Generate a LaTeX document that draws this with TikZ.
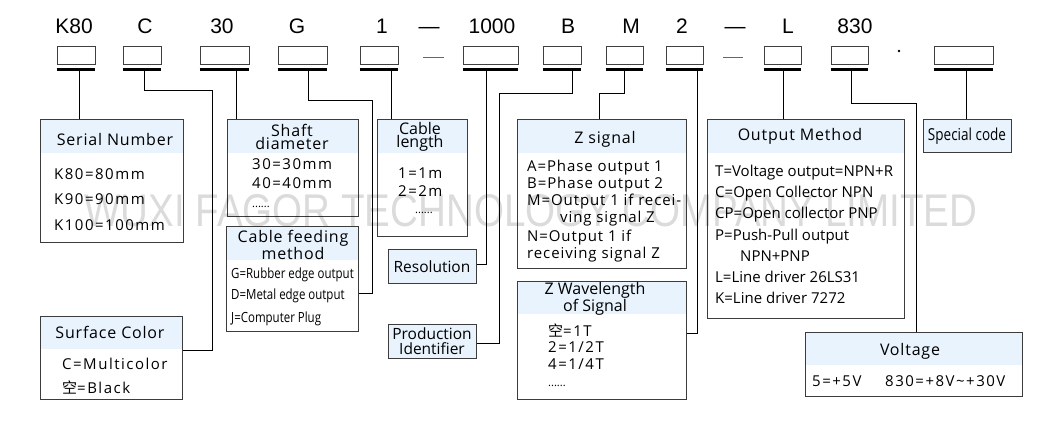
\documentclass[tikz,border=0pt]{standalone}
\usepackage{fontspec}
\setmainfont{Open Sans}
\newfontfamily\codefont{Liberation Sans}
\newfontfamily\cjk{Noto Sans CJK SC}
\newfontfamily\narrowfont{Open Sans}[FakeStretch=0.82]
\newfontfamily\spacedfont{Open Sans}[LetterSpace=10]
\newfontfamily\zfont{Open Sans}[LetterSpace=6]
\newfontfamily\headfont{Open Sans}[LetterSpace=5]
\newfontfamily\markfont{Liberation Sans}
\definecolor{headblue}{RGB}{232,243,253}
\definecolor{boxline}{RGB}{60,60,60}
\tikzset{
codebox/.style={draw=black!75, line width=0.9pt, minimum width=#1, minimum height=18pt, inner sep=0pt},
codetext/.style={font=\codefont\fontsize{21}{21}\selectfont, inner sep=0pt, anchor=base},
underbar/.style={line width=2.4pt},
wire/.style={line width=0.9pt},
infobox/.style={draw=boxline, line width=1.1pt, fill=white, anchor=north west, inner sep=0pt,
  path picture={\fill[headblue] (path picture bounding box.north west) rectangle ([yshift=-#1]path picture bounding box.north east);}},
infobox/.default=33pt,
bluebox/.style={draw=boxline, line width=1.1pt, fill=headblue, anchor=north west, inner sep=0pt},
head/.style={font=\headfont\fontsize{16}{16}\selectfont, inner sep=0pt, anchor=base},
twohead/.style={font=\headfont\fontsize{16}{#1}\selectfont, inner sep=0pt, align=center},
item/.style={font=\spacedfont\fontsize{15}{15}\selectfont, inner sep=0pt, anchor=base west},
zitem/.style={font=\zfont\fontsize{15}{15}\selectfont, inner sep=0pt, anchor=base west},
outitem/.style={font=\fontsize{15}{15}\selectfont, inner sep=0pt, anchor=base west},
narrowitem/.style={font=\narrowfont\fontsize{14}{14}\selectfont, inner sep=0pt, anchor=base west},
dots/.style={font=\fontsize{11}{11}\selectfont, inner sep=0pt, anchor=base west}
}
\begin{document}
\begin{tikzpicture}[x=1pt,y=-1pt]
\useasboundingbox (0,0) rectangle (1060,431);
\foreach \nm/\bx/\w/\tx/\txt/\lx in {kbox/76/38/74/K80/79, cbox/142/38/145/C/144, dbox/224.5/49/222/30/236,
  gbox/302.5/49/297/G/308, lbox/379/38/382/1/391, rbox/490.5/55/492/1000/486, bbox/562/38/568/B/572,
  mbox/624.5/37/631/M/624, zbox/684.5/37/682/2/697, obox/782.5/37/788/L/783, vbox/849.5/37/855/830/851,
  sbox/963.5/59/963.5//966}{
  \node[codebox=\w pt] (\nm) at (\bx,55) {};
  \node[codetext] (\nm-t) at (\tx,33.5) {\txt};
  \draw[underbar] ([yshift=-5pt]\nm.south west) -- ([yshift=-5pt]\nm.south east);
  \coordinate (\nm-o) at (\lx,69);
}
\node[codetext] (dash1) at (429,33.5) {—};
\node[codetext] (dash2) at (735,33.5) {—};
\draw[black!60] (423,57) -- (444,57);
\draw[black!60] (723,57) -- (743,57);
\fill (899,51) circle [radius=1.3];

\node[infobox, minimum width=143pt, minimum height=123pt] (serial) at (40,119) {};
\node[infobox, minimum width=131pt, minimum height=97pt] (shaft) at (227,119) {};
\node[infobox, minimum width=132pt, minimum height=105pt] (feed) at (226,226) {};
\node[infobox, minimum width=90pt, minimum height=117pt] (length) at (377,119) {};
\node[bluebox, minimum width=88pt, minimum height=34pt] (resol) at (388,249) {};
\node[bluebox, minimum width=88pt, minimum height=34pt] (prod) at (388,324) {};
\node[infobox, minimum width=169pt, minimum height=149pt] (zsig) at (517,119) {};
\node[infobox=32pt, minimum width=169pt, minimum height=118pt] (zwave) at (517,281) {};
\node[infobox, minimum width=197pt, minimum height=199pt] (output) at (707,119) {};
\node[infobox=32pt, minimum width=217pt, minimum height=64pt] (volt) at (805,332) {};
\node[bluebox, minimum width=88pt, minimum height=33pt] (special) at (923,119) {};
\node[infobox=32pt, minimum width=142pt, minimum height=83pt] (surface) at (40,316) {};

\draw[wire] (kbox-o) -- (kbox-o |- serial.north);
\draw[wire] (cbox-o) |- (212,90) |- (surface.east |- 0,350);
\draw[wire] (dbox-o) -- (dbox-o |- shaft.north);
\draw[wire] (gbox-o) |- (372,100) |- (feed.east |- 0,293);
\draw[wire] (lbox-o) -- (lbox-o |- length.north);
\draw[wire] (rbox-o) |- (resol.east |- 0,264);
\draw[wire] (bbox-o) |- (499,93) |- (prod.east |- 0,343);
\draw[wire] (mbox-o) |- (599,93) -- (zsig.north -| 599,93);
\draw[wire] (zbox-o) |- (zwave.east |- 0,333);
\draw[wire] (obox-o) -- (obox-o |- output.north);
\draw[wire] (vbox-o) |- (916,103) -- (volt.north -| 916,103);
\draw[wire] (sbox-o) -- (sbox-o |- special.north);

\node[head] (serial-h) at (115,145) {Serial Number};
\node[twohead=12] (shaft-h) at (292,137) {Shaft\\diameter};
\node[twohead=15] (feed-h) at (293,244.5) {Cable feeding\\method};
\node[twohead=12, font=\fontsize{16}{12}\selectfont] (length-h) at (420,137) {Cable\\length};
\node[head, font=\fontsize{15.5}{16}\selectfont] (resol-h) at (432,272) {Resolution};
\node[twohead=15, font=\fontsize{15.5}{15}\selectfont] (prod-h) at (432,341.5) {Production\\Identifier};
\node[head] (zsig-h) at (605,143) {Z signal};
\node[twohead=15, font=\fontsize{16}{15}\selectfont] (zwave-h) at (595,298.5) {Z Wavelength\\of Signal};
\node[head] (output-h) at (800,140) {Output Method};
\node[head] (volt-h) at (910,355) {Voltage};
\node[head, font=\narrowfont\fontsize{16.5}{16}\selectfont] (special-h) at (967,140.5) {Special code};
\node[head] (surface-h) at (110,338) {Surface Color};

\foreach \t [count=\i] in {K80=80mm, K90=90mm, K100=100mm}
  \node[item] (serial-\i) at (54,153.5+25.5*\i) {\t};
\node[item] (shaft-1) at (252,169.5) {30=30mm};
\node[item] (shaft-2) at (252,188.5) {40=40mm};
\node[dots] (shaft-3) at (252,207) {......};
\foreach \t/\y [count=\i] in {G=Rubber edge output/278, D=Metal edge output/299, J=Computer Plug/322}
  \node[narrowitem] (feed-\i) at (231,\y) {\t};
\node[item] (length-1) at (398,178.5) {1=1m};
\node[item] (length-2) at (398,196.5) {2=2m};
\node[dots] (length-3) at (415,213) {......};
\foreach \t/\x/\y [count=\i] in {A=Phase output 1/527/171.5, B=Phase output 2/527/188.5,
  M=Output 1 if recei-/527/205.5, ving signal Z/560/222.5, N=Output 1 if/527/241.5, receiving signal Z/527/258.5}
  \node[zitem] (zsig-\i) at (\x,\y) {\t};
\node[item] (zwave-1) at (548,336.5) {{\cjk 空}=1T};
\node[item] (zwave-2) at (548,352.5) {2=1/2T};
\node[item] (zwave-3) at (548,369.5) {4=1/4T};
\node[dots] (zwave-4) at (548,386) {......};
\foreach \t/\x/\y [count=\i] in {T=Voltage output=NPN+R/715/176.5, C=Open Collector NPN/715/197.5,
  CP=Open collector PNP/715/218.5, P=Push-Pull output/715/240.5, NPN+PNP/740/261.5,
  L=Line driver 26LS31/715/282.5, K=Line driver 7272/715/303.5}
  \node[outitem] (output-\i) at (\x,\y) {\t};
\node[item] (surface-1) at (62,369.5) {C=Multicolor};
\node[item] (surface-2) at (62,393.5) {{\cjk 空}=Black};
\node[item] (volt-1) at (812,386.5) {5=+5V};
\node[item] (volt-2) at (885,386.5) {830=+8V\textasciitilde+30V};

\node[opacity=0.14, anchor=north west, inner sep=0pt] (mark) at (84,194)
  {\resizebox{893pt}{32pt}{\markfont WUXI FAGOR TECHNOLOGY COMPANY LIMITED}};
\end{tikzpicture}
\end{document}
